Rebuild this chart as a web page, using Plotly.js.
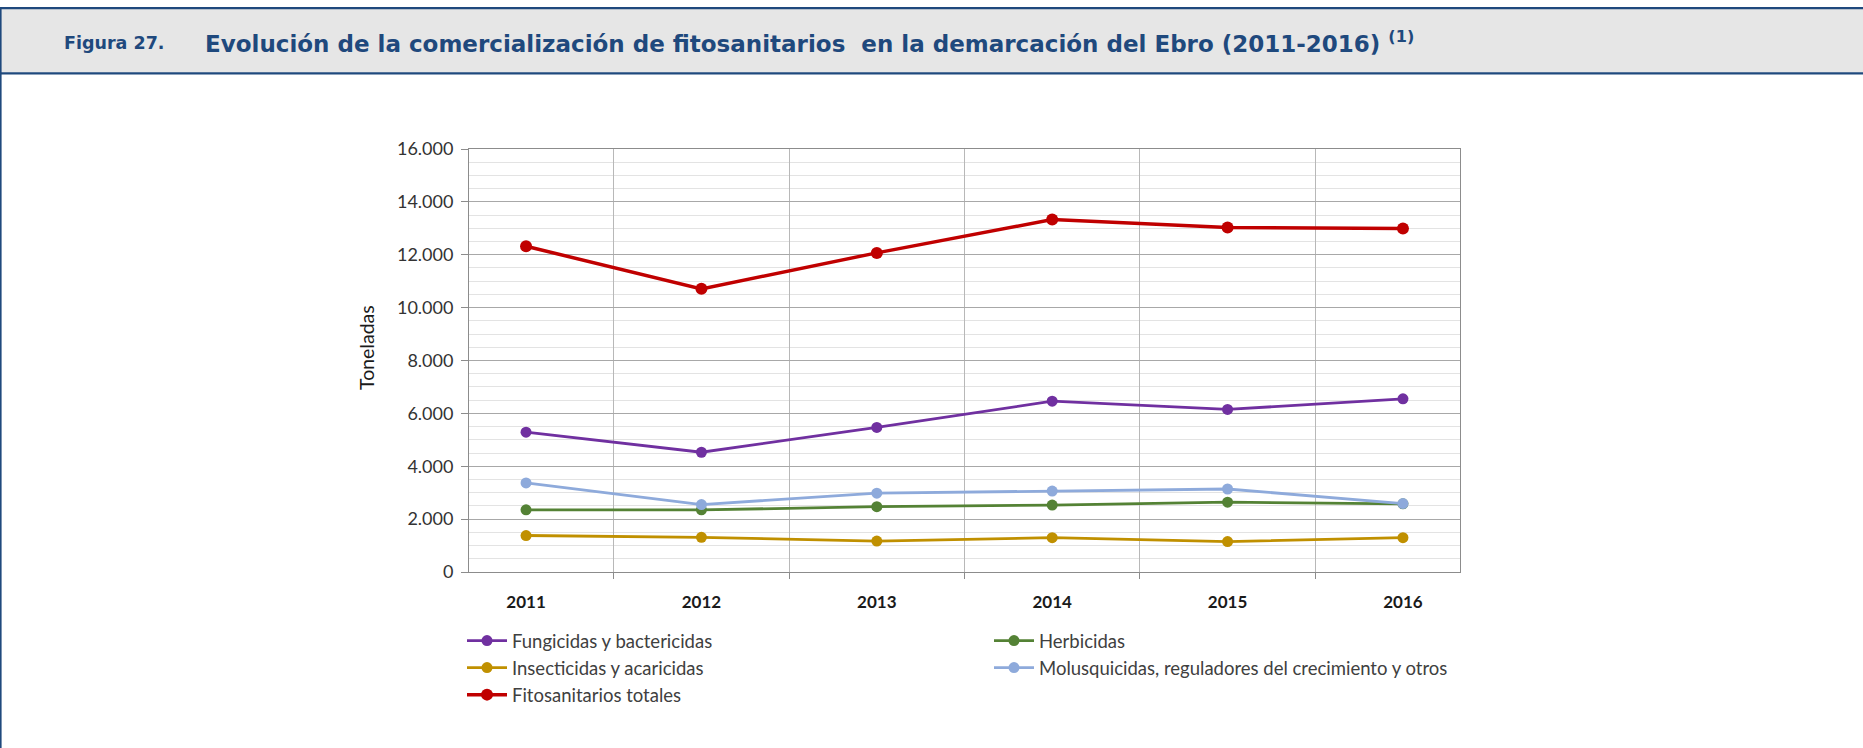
<!DOCTYPE html>
<html>
<head>
<meta charset="utf-8">
<script src="https://cdn.plot.ly/plotly-3.0.1.min.js"></script>
<style>
  html, body { margin: 0; padding: 0; background: #fff; }
  #chart { width: 1863px; height: 748px; }
</style>
</head>
<body>
<div id="chart"></div>
<script>
// Data (toneladas)
const years = ['2011', '2012', '2013', '2014', '2015', '2016']
const fungicidas = [5290, 4530, 5470, 6460, 6150, 6550]
const herbicidas = [2350, 2350, 2470, 2530, 2640, 2580]
const insecticidas = [1380, 1310, 1170, 1300, 1150, 1300]
const molusquicidas = [3370, 2550, 2980, 3060, 3140, 2590]
const totales = [12320, 10710, 12070, 13330, 13030, 12990]

const seriesNames = [
    'Fungicidas y bactericidas',
    'Herbicidas',
    'Insecticidas y acaricidas',
    'Molusquicidas, reguladores del crecimiento y otros',
    'Fitosanitarios totales'
]

// plot area in page pixels
const W = 1863, H = 748
const plotL = 469, plotR = 1460, plotT = 149, plotB = 572
const fx = px => (px - plotL) / (plotR - plotL)
const fy = py => (plotB - py) / (plotB - plotT)

const navy = '#1f497d'

function makeTrace(name, y, color, width, size, legend) {
    return {
        x: years,
        y: y,
        type: 'scatter',
        mode: 'lines+markers',
        name: name,
        legend: legend,
        legendgroup: name,
        line: { color: color, width: width },
        marker: { color: color, size: size },
        hoverinfo: 'x+y+name'
    }
}

const traces = [
    makeTrace(seriesNames[0], fungicidas, '#7030a0', 2.8, 11, 'legend'),
    makeTrace(seriesNames[1], herbicidas, '#548235', 2.8, 11, 'legend2'),
    makeTrace(seriesNames[2], insecticidas, '#c09000', 2.8, 11, 'legend'),
    makeTrace(seriesNames[3], molusquicidas, '#8eaadb', 2.8, 11, 'legend2'),
    makeTrace(seriesNames[4], totales, '#c00000', 3.5, 12, 'legend')
]

const legendFont = { family: 'Lato, "Open Sans", sans-serif', size: 18.5, color: '#404040' }

const layout = {
    width: W,
    height: H,
    margin: { l: plotL, r: W - plotR, t: plotT, b: H - plotB, pad: 0 },
    paper_bgcolor: '#ffffff',
    plot_bgcolor: '#ffffff',
    separators: ',.',
    font: { family: 'Lato, "Open Sans", sans-serif', color: '#404040' },
    showlegend: true,
    xaxis: {
        type: 'category',
        tickson: 'boundaries',
        ticks: 'outside',
        ticklen: 6,
        tickcolor: '#8c8c8c',
        showgrid: true,
        gridcolor: '#b8b8b8',
        showline: true,
        linecolor: '#8c8c8c',
        linewidth: 1,
        mirror: true,
        tickfont: { family: 'Lato, sans-serif', size: 17, color: '#1a1a1a', weight: 'bold' },
        ticklabelstandoff: 15,
        fixedrange: true
    },
    yaxis: {
        range: [0, 16000],
        dtick: 2000,
        tickformat: ',d',
        ticks: 'outside',
        ticklen: 7,
        tickcolor: '#8c8c8c',
        showgrid: true,
        gridcolor: '#a8a8a8',
        showline: true,
        linecolor: '#8c8c8c',
        mirror: true,
        zeroline: false,
        minor: { dtick: 500, showgrid: true, gridcolor: '#e3e3e3', gridwidth: 1 },
        tickfont: { family: 'Lato, sans-serif', size: 18, color: '#333333' },
        ticklabelstandoff: 4,
        fixedrange: true
    },
    legend: {
        x: fx(462), y: fy(622), xanchor: 'left', yanchor: 'top',
        orientation: 'v', font: legendFont, bgcolor: 'rgba(0,0,0,0)',
        tracegroupgap: 0, itemwidth: 40
    },
    legend2: {
        x: fx(989), y: fy(622), xanchor: 'left', yanchor: 'top',
        orientation: 'v', font: legendFont, bgcolor: 'rgba(0,0,0,0)',
        tracegroupgap: 0, itemwidth: 40
    },
    shapes: [
        // header band
        { type: 'rect', xref: 'paper', yref: 'paper', x0: fx(0), x1: fx(W), y0: fy(9), y1: fy(72.5),
          fillcolor: '#e6e6e6', line: { width: 0 }, layer: 'below' },
        { type: 'rect', xref: 'paper', yref: 'paper', x0: fx(0), x1: fx(W), y0: fy(7), y1: fy(9.3),
          fillcolor: navy, line: { width: 0 } },
        { type: 'rect', xref: 'paper', yref: 'paper', x0: fx(0), x1: fx(W), y0: fy(72.3), y1: fy(74.6),
          fillcolor: navy, line: { width: 0 } },
        { type: 'rect', xref: 'paper', yref: 'paper', x0: fx(0), x1: fx(1.6), y0: fy(7), y1: fy(H),
          fillcolor: navy, line: { width: 0 } }
    ],
    annotations: [
        { xref: 'paper', yref: 'paper', x: fx(62), y: fy(43), xanchor: 'left', yanchor: 'middle',
          showarrow: false, text: 'Figura 27.',
          font: { family: '"DejaVu Sans", sans-serif', size: 17.5, color: navy, weight: 'bold' } },
        { xref: 'paper', yref: 'paper', x: fx(203), y: fy(42), xanchor: 'left', yanchor: 'middle',
          showarrow: false,
          text: 'Evolución de la comercialización de fitosanitarios\u00a0 en la demarcación del Ebro (2011-2016) <sup>(1)</sup>',
          font: { family: '"DejaVu Sans", sans-serif', size: 23, color: navy, weight: 'bold' } },
        { xref: 'paper', yref: 'paper', x: fx(366), y: fy(348), xanchor: 'center', yanchor: 'middle',
          showarrow: false, textangle: -90, text: 'Toneladas',
          font: { family: 'Lato, sans-serif', size: 19.5, color: '#1a1a1a' } }
    ]
}

Plotly.newPlot('chart', traces, layout, { displayModeBar: false, staticPlot: true })
</script>
</body>
</html>
